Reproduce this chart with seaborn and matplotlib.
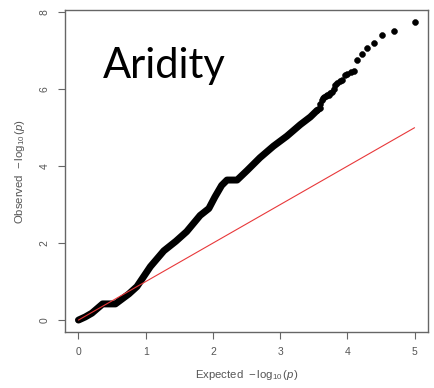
import matplotlib
matplotlib.use("Agg")
import matplotlib.pyplot as plt
import seaborn as sns
import pandas as pd

# Dense part of the QQ curve (expected, observed)
dense_expected = [0.00, 0.10, 0.20, 0.30, 0.36, 0.45, 0.55, 0.65, 0.75, 0.87,
                  0.97, 1.07, 1.27, 1.45, 1.61, 1.81, 1.94, 2.03, 2.13, 2.21,
                  2.36, 2.51, 2.70, 2.90, 3.10, 3.30, 3.45, 3.55]
dense_observed = [0.00, 0.08, 0.18, 0.33, 0.42, 0.42, 0.42, 0.55, 0.68, 0.87,
                  1.13, 1.39, 1.80, 2.05, 2.30, 2.72, 2.90, 3.20, 3.50, 3.64,
                  3.64, 3.89, 4.22, 4.52, 4.78, 5.08, 5.28, 5.45]

# Top individual points
top_expected = [5.00, 4.70, 4.52, 4.40, 4.30, 4.22, 4.15, 4.10, 4.05, 4.00,
                 3.96, 3.92, 3.89, 3.85, 3.82, 3.80, 3.77, 3.74, 3.72, 3.70,
                 3.68, 3.66, 3.64, 3.62, 3.60, 3.59, 3.57, 3.55]
top_observed = [7.74, 7.52, 7.42, 7.20, 7.07, 6.92, 6.76, 6.48, 6.45, 6.40,
                6.36, 6.25, 6.22, 6.15, 6.10, 6.00, 5.92, 5.90, 5.86, 5.84,
                5.82, 5.80, 5.78, 5.72, 5.62, 5.50, 5.48, 5.45]

ref_x = [0, 5]
ref_y = [0, 5]

x_ticks = [0, 1, 2, 3, 4, 5]
y_ticks = [0, 2, 4, 6, 8]

sns.set_style("white")
plt.rcParams["font.family"] = ["Liberation Sans", "DejaVu Sans"]
plt.rcParams["mathtext.fontset"] = "custom"
plt.rcParams["mathtext.rm"] = "Liberation Sans"
plt.rcParams["mathtext.it"] = "Liberation Sans:italic"

fig = plt.figure(figsize=(4.34, 3.88), dpi=100)
ax = fig.add_axes([65/434, 1 - 332/388, (428-65)/434, (332-10)/388])

dense = pd.DataFrame({"x": dense_expected, "y": dense_observed})
top = pd.DataFrame({"x": top_expected, "y": top_observed})
ref = pd.DataFrame({"x": ref_x, "y": ref_y})

sns.lineplot(data=dense, x="x", y="y", sort=False, estimator=None, ax=ax,
             color="black", linewidth=5.0, solid_capstyle="round",
             solid_joinstyle="round")
sns.scatterplot(data=top, x="x", y="y", ax=ax, color="black", s=18,
                edgecolor="black", linewidth=0.4)
sns.lineplot(data=ref, x="x", y="y", sort=False, estimator=None, ax=ax,
             color="#e8383a", linewidth=0.8)

ax.set_xlim(-0.2, 5.2)
ax.set_ylim(-0.31, 8.06)
ax.set_xticks(x_ticks)
ax.set_yticks(y_ticks)
ax.set_xticklabels([str(t) for t in x_ticks])
ax.set_yticklabels([str(t) for t in y_ticks], rotation=90, va="center")

grey = "#555555"
for s in ax.spines.values():
    s.set_color("#666666")
    s.set_linewidth(1.0)
ax.tick_params(axis="both", direction="out", length=5, width=0.8,
               color="#666666", labelsize=7.5, labelcolor=grey, pad=6,
               bottom=True, left=True)

ax.set_xlabel(r"Expected  $-\,\log_{10}(p)$", fontsize=8.2, color=grey, labelpad=8)
ax.set_ylabel(r"Observed  $-\,\log_{10}(p)$", fontsize=8.2, color=grey, labelpad=9)

ax.text(0.105, 0.885, "Aridity", transform=ax.transAxes, fontsize=30,
        family="Lato", color="black", ha="left", va="top")

fig.savefig("out.png", dpi=100)
